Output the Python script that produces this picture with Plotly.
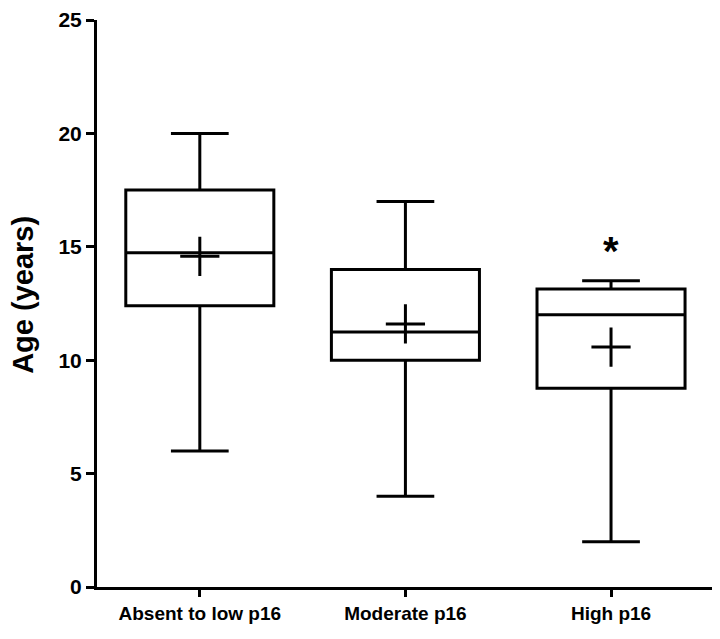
import plotly.graph_objects as go

categories = ["Absent to low p16", "Moderate p16", "High p16"]
x_pos = [0, 1, 2]
q1 = [12.4, 10.0, 8.76]
median = [14.74, 11.24, 12.0]
q3 = [17.5, 14.0, 13.14]
lower = [6.0, 4.0, 2.0]
upper = [20.0, 17.0, 13.5]
means = [14.58, 11.6, 10.58]
y_ticks = [0, 5, 10, 15, 20, 25]

font_fam = "Liberation Sans, Arial, sans-serif"

fig = go.Figure()
fig.add_trace(go.Box(
    x=x_pos, q1=q1, median=median, q3=q3,
    lowerfence=lower, upperfence=upper,
    fillcolor="white", line=dict(color="black", width=3),
    width=0.72, whiskerwidth=0.39, boxpoints=False, showlegend=False,
))
fig.add_trace(go.Scatter(
    x=x_pos, y=means, mode="markers",
    marker=dict(symbol="cross-thin", size=28, line=dict(color="black", width=3), color="black"),
    showlegend=False,
))
fig.add_annotation(x=2, y=upper[2], yshift=30, text="<b>*</b>", showarrow=False,
                   font=dict(size=40, color="black", family=font_fam))
fig.add_annotation(xref="paper", yref="paper", x=-0.119, y=0.515,
                   text="<b>Age (years)</b>", textangle=-90, showarrow=False,
                   xanchor="center", yanchor="middle",
                   font=dict(size=29, color="black", family=font_fam))

fig.update_layout(
    width=720, height=639,
    margin=dict(l=89, r=8, t=12, b=60),
    plot_bgcolor="white", paper_bgcolor="white",
    font=dict(family=font_fam, color="black"),
)
fig.update_xaxes(
    range=[-0.5, 2.53], tickmode="array", tickvals=x_pos,
    ticktext=[f"<b>{c}</b>" for c in categories],
    showline=True, linecolor="black", linewidth=3,
    ticks="outside", ticklen=7, tickwidth=3, tickcolor="black",
    showgrid=False, zeroline=False, tickfont=dict(size=19, color="black"),
    automargin=False,
)
fig.update_yaxes(
    range=[0, 25], tickmode="array", tickvals=y_ticks,
    ticktext=[f"<b>{v}</b>" for v in y_ticks],
    showline=True, linecolor="black", linewidth=3,
    ticks="outside", ticklen=8, tickwidth=3, tickcolor="black",
    showgrid=False, zeroline=False, tickfont=dict(size=21, color="black"),
    ticklabeloverflow="allow", automargin=False,
)
fig.write_html("out.html")
